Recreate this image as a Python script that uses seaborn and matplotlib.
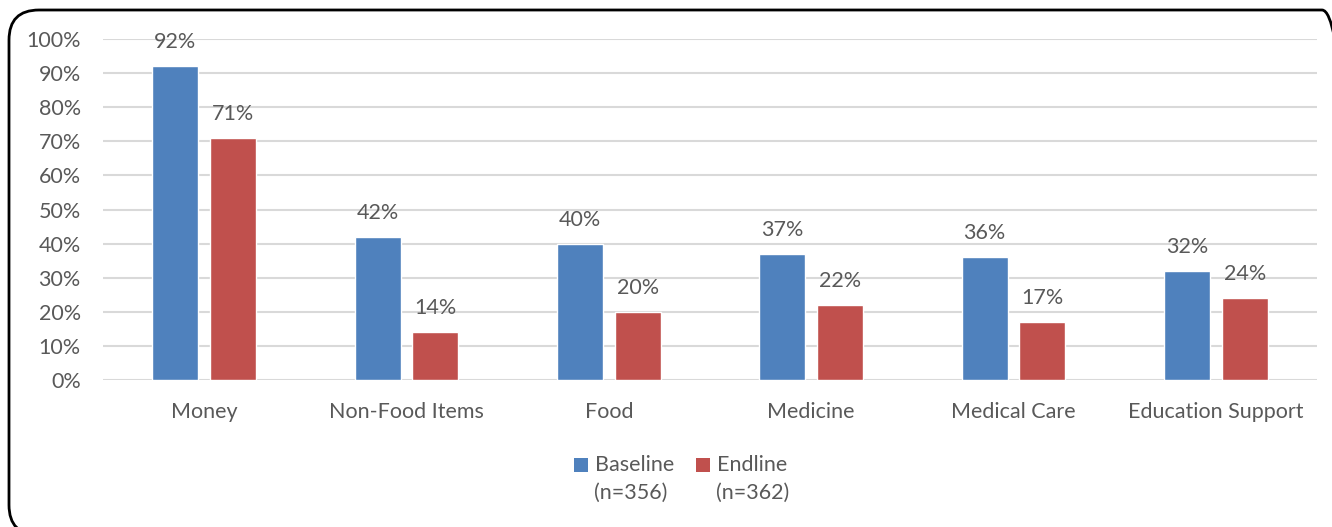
import matplotlib
matplotlib.use("Agg")
import matplotlib.pyplot as plt
import seaborn as sns
import pandas as pd
from matplotlib.patches import FancyBboxPatch, Rectangle

categories = ["Money", "Non-Food Items", "Food", "Medicine", "Medical Care", "Education Support"]
baseline = [92, 42, 40, 37, 36, 32]
endline = [71, 14, 20, 22, 17, 24]
series_names = ["Baseline", "Endline"]
series_n = ["(n=356)", "(n=362)"]
y_ticks = [0, 10, 20, 30, 40, 50, 60, 70, 80, 90, 100]

colors = ["#4F81BD", "#C0504D"]
text_color = "#595959"
fs = 15.5

df = pd.DataFrame({
    "category": categories * 2,
    "value": baseline + endline,
    "series": [series_names[0]] * len(categories) + [series_names[1]] * len(categories),
})

sns.set_theme(style="white")
plt.rcParams["font.family"] = ["Lato", "DejaVu Sans"]

W, H = 1332, 527
fig = plt.figure(figsize=(W / 100, H / 100), dpi=100)
ax = fig.add_axes([103 / W, 1 - 380 / H, (1317 - 103) / W, (380 - 39) / H])

sns.barplot(data=df, x="category", y="value", hue="series", order=categories,
            hue_order=series_names, palette=colors, width=0.57, gap=0.2,
            saturation=1, ax=ax, legend=False)

ax.set_ylim(0, 100)
ax.set_xlim(-0.5, len(categories) - 0.5)
ax.set_yticks(y_ticks)
ax.set_yticklabels([f"{t}%" for t in y_ticks])
ax.yaxis.grid(True, color="#D9D9D9", linewidth=1.5)
ax.set_axisbelow(True)
for s in ax.spines.values():
    s.set_visible(False)
ax.set_xlabel("")
ax.set_ylabel("")
ax.tick_params(axis="y", labelsize=fs, colors=text_color, length=0, pad=16)
ax.tick_params(axis="x", labelsize=fs, colors=text_color, length=0, pad=16)

for cont in ax.containers:
    ax.bar_label(cont, labels=[f"{v:.0f}%" for v in cont.datavalues],
                 padding=10, fontsize=fs, color=text_color)

# legend (drawn manually to match two-line labels with top-aligned swatches)
leg_x = [574, 696]
for i in range(2):
    fig.patches.append(Rectangle((leg_x[i], H - 472), 14, 14, transform=None,
                                 facecolor=colors[i], edgecolor="none"))
    fig.text((leg_x[i] + 21) / W, 1 - 465 / H, series_names[i], fontsize=fs,
             color=text_color, va="center", ha="left")
    fig.text((leg_x[i] + 20) / W, 1 - 493 / H, series_n[i], fontsize=fs,
             color=text_color, va="center", ha="left")

frame = FancyBboxPatch((9, -8), 1343, 525, boxstyle="round,pad=0,rounding_size=30",
                       transform=None, facecolor="none", edgecolor="black",
                       linewidth=2, clip_on=False)
fig.patches.append(frame)

fig.savefig("out.png", dpi=100)
